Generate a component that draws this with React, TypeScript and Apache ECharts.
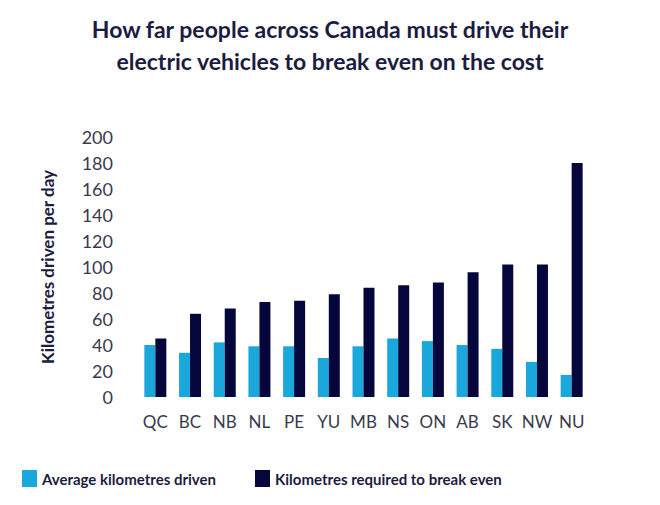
import React, { useEffect, useRef } from 'react';
import * as echarts from 'echarts';

const provinces = ['QC', 'BC', 'NB', 'NL', 'PE', 'YU', 'MB', 'NS', 'ON', 'AB', 'SK', 'NW', 'NU'];
const averageDriven = [40, 34, 42, 39, 39, 30, 39, 45, 43, 40, 37, 27, 17];
const breakEven = [45, 64, 68, 73, 74, 79, 84, 86, 88, 96, 102, 102, 180];
const yTicks = { min: 0, max: 200, interval: 20 };

const LIGHT = '#1aa7dc';
const DARK = '#05063b';
const INK = '#1c1c40';

export default function App() {
  const chartRef = useRef<HTMLDivElement>(null);

  useEffect(() => {
    if (!chartRef.current) return;
    document.body.style.margin = '0';
    const chart = echarts.init(chartRef.current, null, { renderer: 'svg' });

    const legendText = {
      fontFamily: 'Lato',
      fontWeight: 'bold' as const,
      fontSize: 15,
      color: INK,
    };

    chart.setOption({
      animation: false,
      backgroundColor: '#ffffff',
      title: {
        text: 'How far people across Canada must drive their\nelectric vehicles to break even on the cost',
        left: 325,
        top: 8,
        textAlign: 'center',
        textStyle: {
          fontFamily: 'Lato',
          fontWeight: 'bold',
          fontSize: 23,
          lineHeight: 32,
          color: INK,
        },
      },
      legend: [
        {
          data: ['Average kilometres driven'],
          left: 17,
          top: 465,
          icon: 'rect',
          itemWidth: 15,
          itemHeight: 17,
          itemGap: 0,
          textStyle: legendText,
          selectedMode: false,
        },
        {
          data: ['Kilometres required to break even'],
          left: 250,
          top: 465,
          icon: 'rect',
          itemWidth: 15,
          itemHeight: 17,
          textStyle: legendText,
          selectedMode: false,
        },
      ],
      grid: { left: 138, right: 71, top: 137, bottom: 108 },
      xAxis: {
        type: 'category',
        data: provinces,
        axisLine: { show: false },
        axisTick: { show: false },
        axisLabel: {
          interval: 0,
          margin: 16,
          fontFamily: 'Lato',
          fontSize: 17,
          color: '#3a3a4e',
        },
      },
      yAxis: {
        type: 'value',
        min: yTicks.min,
        max: yTicks.max,
        interval: yTicks.interval,
        name: 'Kilometres driven per day',
        nameLocation: 'middle',
        nameGap: 82,
        nameTextStyle: {
          fontFamily: 'Lato',
          fontWeight: 'bold',
          fontSize: 17,
          color: INK,
        },
        splitLine: { show: false },
        axisLine: { show: false },
        axisTick: { show: false },
        axisLabel: {
          margin: 25,
          fontFamily: 'Lato',
          fontSize: 18,
          color: '#3a3a4e',
        },
      },
      series: [
        {
          name: 'Average kilometres driven',
          type: 'bar',
          data: averageDriven,
          barWidth: 11,
          barGap: '0%',
          itemStyle: { color: LIGHT },
        },
        {
          name: 'Kilometres required to break even',
          type: 'bar',
          data: breakEven,
          barWidth: 11,
          barGap: '0%',
          itemStyle: { color: DARK },
        },
      ],
    });

    return () => chart.dispose();
  }, []);

  return <div ref={chartRef} style={{ width: 660, height: 505 }} />;
}
